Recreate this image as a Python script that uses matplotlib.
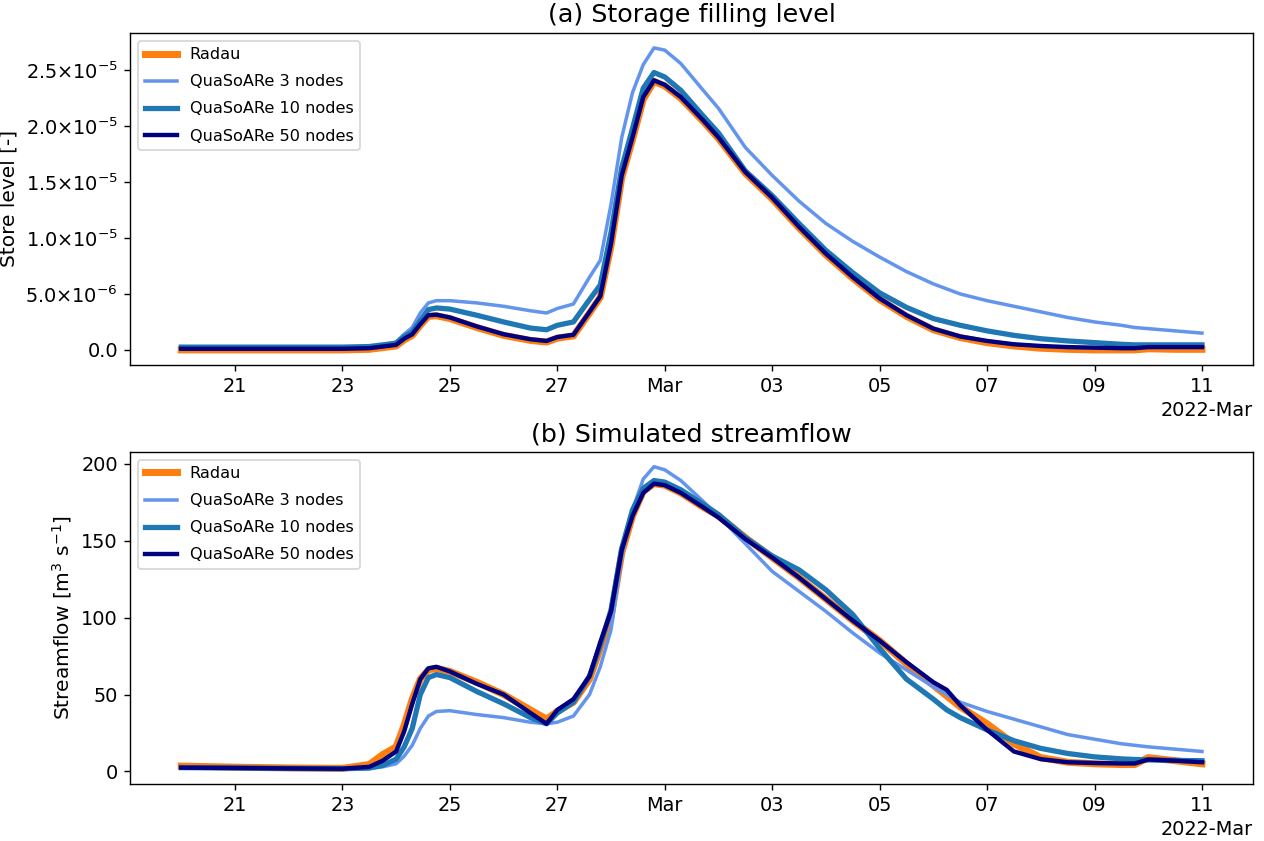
import numpy as np
import pandas as pd
import matplotlib
matplotlib.use("Agg")
import matplotlib.pyplot as plt
import matplotlib.dates as mdates
from matplotlib.ticker import FuncFormatter, MultipleLocator

# time axis: days after 2022-02-20 00:00
days = [0, 1, 2, 3, 3.5, 3.75, 4.0, 4.15, 4.3, 4.45, 4.6, 4.75,
        5.0, 5.5, 6.0, 6.5, 6.8, 7.0, 7.3, 7.6, 7.8,
        8.0, 8.2, 8.4, 8.6, 8.8, 9.0, 9.3, 9.7, 10.0, 10.5,
        11.0, 11.5, 12.0, 12.5, 13.0, 13.5, 14.0, 14.25, 14.5, 15.0,
        15.5, 16.0, 16.5, 17.0, 17.5, 17.75, 18.0, 18.5, 19.0]

# store level, in units of 1e-6
radau_store = [0.0, 0.0, 0.0, 0.0, 0.05, 0.2, 0.35, 0.9, 1.3, 2.2, 3.0, 3.05,
               2.8, 2.0, 1.3, 0.85, 0.7, 1.05, 1.25, 3.3, 4.7,
               9.3, 15.4, 18.8, 22.4, 24.0, 23.6, 22.5, 20.5, 18.9, 15.8,
               13.5, 10.9, 8.5, 6.4, 4.5, 3.0, 1.8, 1.45, 1.1, 0.65,
               0.35, 0.15, 0.05, 0.0, 0.0, 0.0, 0.1, 0.05, 0.05]
n3_store = [0.2, 0.2, 0.2, 0.2, 0.25, 0.4, 0.7, 1.4, 2.0, 3.3, 4.2, 4.4,
            4.4, 4.2, 3.9, 3.5, 3.3, 3.7, 4.1, 6.5, 8.0,
            13.0, 19.0, 23.0, 25.5, 27.0, 26.8, 25.6, 23.3, 21.6, 18.1,
            15.6, 13.3, 11.3, 9.7, 8.3, 7.0, 5.9, 5.45, 5.0, 4.4,
            3.9, 3.4, 2.9, 2.5, 2.2, 2.0, 1.9, 1.7, 1.5]
n10_store = [0.25, 0.25, 0.25, 0.25, 0.3, 0.45, 0.6, 1.2, 1.6, 2.6, 3.6, 3.75,
             3.65, 3.1, 2.5, 1.95, 1.8, 2.2, 2.5, 4.5, 5.8,
             10.5, 16.3, 19.8, 23.4, 24.8, 24.4, 23.2, 21.0, 19.4, 16.0,
             13.8, 11.3, 8.9, 6.9, 5.1, 3.8, 2.8, 2.5, 2.2, 1.7,
             1.3, 1.0, 0.8, 0.65, 0.5, 0.45, 0.45, 0.45, 0.45]
n50_store = [0.1, 0.1, 0.1, 0.1, 0.15, 0.3, 0.45, 1.0, 1.4, 2.3, 3.1, 3.15,
             2.9, 2.1, 1.4, 0.95, 0.8, 1.15, 1.35, 3.4, 4.8,
             9.5, 15.6, 19.0, 22.6, 24.1, 23.7, 22.6, 20.6, 19.0, 15.9,
             13.6, 11.0, 8.6, 6.5, 4.6, 3.1, 1.9, 1.55, 1.2, 0.8,
             0.5, 0.35, 0.25, 0.2, 0.15, 0.15, 0.25, 0.25, 0.25]

# streamflow, m3/s
radau_q = [3.5, 2.8, 2.3, 2.0, 4.5, 11, 16, 30, 47, 60, 66, 67,
           65, 58, 50, 40, 34, 39, 45, 60, 80,
           100, 142, 166, 182, 187, 186, 181, 172, 166, 152,
           139, 126, 112, 98, 85, 70, 56, 49, 42, 31,
           18, 9, 6, 5, 4.5, 4.5, 9, 7, 5]
n3_q = [2.5, 2.3, 2.0, 1.8, 2.0, 3, 5, 10, 17, 28, 36, 39,
        39.5, 37, 35, 32, 31, 32, 36, 50, 68,
        92, 140, 170, 190, 198, 196, 189, 176, 166, 148,
        130, 117, 104, 90, 77, 66, 55, 50, 45, 39,
        34, 29, 24, 21, 18, 17, 16, 14.5, 13]
n10_q = [2.5, 2.3, 2.0, 1.8, 2.2, 4, 8, 16, 28, 50, 61, 63,
         61, 52, 44, 35, 31, 38, 45, 62, 82,
         105, 145, 170, 184, 189, 188, 183, 174, 167, 152,
         140, 131, 118, 102, 80, 60, 47, 40, 35, 27,
         20, 15, 11.7, 9.5, 8.2, 7.8, 7.5, 7.2, 7]
n50_q = [2.5, 2.3, 2.0, 1.8, 3, 7, 13, 26, 44, 60, 67, 68,
         65, 57, 50, 38, 31, 40, 47, 62, 84,
         104, 144, 166, 181, 187, 186, 181, 172, 165, 151,
         139, 126, 112, 98, 85, 71, 58, 53, 43, 27,
         13, 8, 6, 5.5, 5.2, 5.2, 7.8, 7, 6]

labels = ["Radau", "QuaSoARe 3 nodes", "QuaSoARe 10 nodes", "QuaSoARe 50 nodes"]
colors = ["tab:orange", "cornflowerblue", "tab:blue", "navy"]
widths = [4, 2, 3, 2.5]

time = pd.Timestamp("2022-02-20") + pd.to_timedelta(days, unit="D")
store = [np.array(s) * 1e-6 for s in (radau_store, n3_store, n10_store, n50_store)]
flow = [radau_q, n3_q, n10_q, n50_q]


def sci_fmt(x, pos):
    if abs(x) < 1e-12:
        return "0.0"
    m, e = f"{x:.1e}".split("e")
    return f"{m}×10$^{{{int(e)}}}$"


fig = plt.figure(figsize=(1264 / 126, 841 / 126), dpi=126)
ax1 = fig.add_axes([0.103, 0.566, 0.8883, 0.395])
ax2 = fig.add_axes([0.103, 0.068, 0.8883, 0.395])

for ax, series in ((ax1, store), (ax2, flow)):
    for y, lab, c, lw in zip(series, labels, colors, widths):
        ax.plot(time, y, color=c, lw=lw, label=lab)
    loc = mdates.DayLocator(bymonthday=range(1, 32, 2))
    ax.xaxis.set_major_locator(loc)
    fmt = mdates.ConciseDateFormatter(loc)
    ax.xaxis.set_major_formatter(fmt)
    ax.tick_params(labelsize=11)
    ax.xaxis.get_offset_text().set_fontsize(11)
    ax.legend(loc="upper left", fontsize=9.2, labelspacing=0.75)

ax1.yaxis.set_major_formatter(FuncFormatter(sci_fmt))
ax1.set_ylabel("Store level [-]", fontsize=11.5)
ax1.set_title("(a) Storage filling level", fontsize=14.5)

ax2.yaxis.set_major_locator(MultipleLocator(50))
ax2.set_ylabel(r"Streamflow [m$^3$ s$^{-1}$]", fontsize=11.5)
ax2.set_title("(b) Simulated streamflow", fontsize=14.5)

fig.savefig("out.png", dpi=126)
